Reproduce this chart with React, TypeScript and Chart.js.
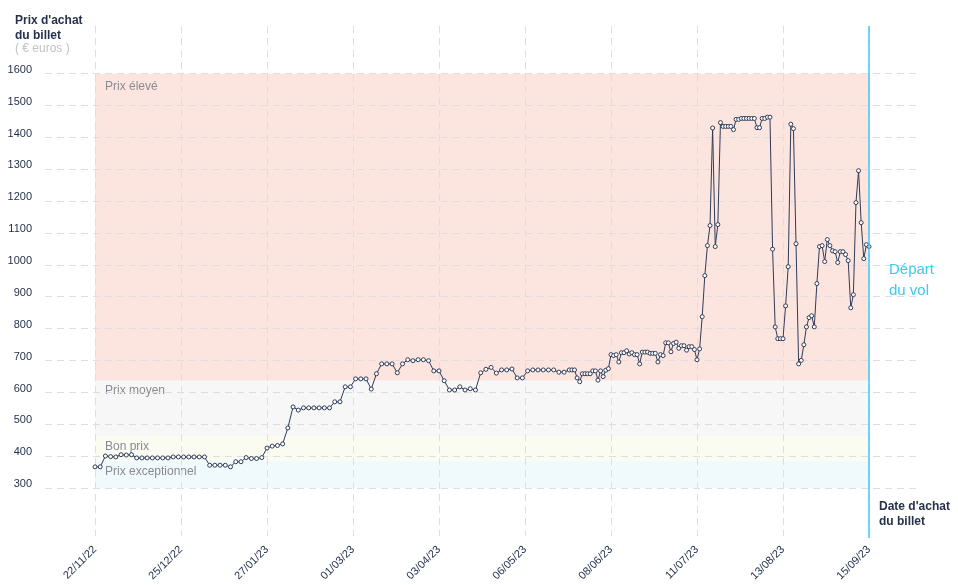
import React, { useEffect, useRef } from 'react';
import { Chart, registerables } from 'chart.js';

Chart.register(...registerables);

// X axis: day offsets from 22/11/22 and their labels
const xTickDays = [0, 33, 66, 99, 132, 165, 198, 231, 264, 297];
const xTickLabels = ['22/11/22', '25/12/22', '27/01/23', '01/03/23', '03/04/23', '06/05/23', '08/06/23', '11/07/23', '13/08/23', '15/09/23'];
const yTickValues = [300, 400, 500, 600, 700, 800, 900, 1000, 1100, 1200, 1300, 1400, 1500, 1600];

// Purchase dates (days after 22/11/22)
const priceDays = [
  0, 2, 4, 6, 8, 10, 12, 14, 16, 18, 20, 22, 24, 26, 28, 30, 32, 34, 36, 38,
  40, 42, 44, 46, 48, 50, 52, 54, 56, 58, 60, 62, 64, 66, 68, 70, 72, 74, 76, 78,
  80, 82, 84, 86, 88, 90, 92, 94, 96, 98, 100, 102, 104, 106, 108, 110, 112, 114, 116, 118,
  120, 122, 124, 126, 128, 130, 132, 134, 136, 138, 140, 142, 144, 146, 148, 150, 152, 154, 156, 158,
  160, 162, 164, 166, 168, 170, 172, 174, 176, 178, 180,
  182, 183, 184, 185, 186, 187, 188, 189, 190, 191, 192, 193, 194, 195, 196, 197, 198, 199, 200, 201,
  202, 203, 204, 205, 206, 207, 208, 209, 210, 211, 212, 213, 214, 215, 216, 217, 218, 219, 220, 221,
  222, 223, 224, 225, 226, 227, 228, 229, 230, 231, 232, 233, 234, 235, 236, 237, 238, 239, 240, 241,
  242, 243, 244, 245, 246, 247, 248, 249, 250, 251, 252, 253, 254, 255, 256, 257, 258, 259, 260, 261,
  262, 263, 264, 265, 266, 267, 268, 269, 270, 271, 272, 273, 274, 275, 276, 277, 278, 279, 280, 281,
  282, 283, 284, 285, 286, 287, 288, 289, 290, 291, 292, 293, 294, 295, 296, 297,
];

// Ticket prices (€)
const prices = [
  367, 367, 401, 399, 398, 405, 404, 405, 395, 395, 395, 395, 395, 395, 395, 398, 398, 398, 398, 398,
  398, 398, 372, 372, 372, 372, 367, 383, 383, 396, 393, 393, 396, 426, 432, 434, 439, 489, 555, 545,
  552, 552, 552, 552, 552, 552, 571, 571, 618, 618, 643, 643, 643, 611, 659, 690, 690, 690, 662, 690,
  703, 700, 703, 703, 700, 668, 668, 637, 608, 608, 618, 608, 612, 608, 662, 673, 679, 661, 671, 671,
  674, 646, 646, 668, 671, 671, 671, 671, 671, 664, 664,
  671, 671, 671, 646, 634, 659, 659, 659, 659, 668, 668, 639, 668, 650, 670, 675, 719, 716, 719, 696,
  725, 725, 731, 721, 725, 719, 719, 690, 727, 727, 727, 723, 723, 723, 696, 719, 716, 756, 756, 728,
  754, 758, 739, 747, 747, 733, 744, 744, 735, 703, 737, 838, 967, 1061, 1124, 1430, 1058, 1127, 1447, 1435,
  1435, 1435, 1435, 1425, 1457, 1457, 1460, 1460, 1460, 1460, 1460, 1460, 1431, 1431, 1460, 1460, 1464, 1464, 1050, 806,
  769, 769, 769, 872, 995, 1442, 1428, 1067, 690, 701, 750, 806, 835, 841, 806, 942, 1058, 1061, 1011, 1080,
  1061, 1045, 1042, 1008, 1042, 1042, 1033, 1014, 866, 907, 1196, 1296, 1133, 1020, 1064, 1058,
];

// Price zones
const bandNames = ['Prix élevé', 'Prix moyen', 'Bon prix', 'Prix exceptionnel'];
const bandTops = [1600, 637, 463, 385];
const bandBottoms = [637, 463, 385, 300];
const bandColors = ['#fde5df', '#f7f7f8', '#fbfcf1', '#f0fafd'];
const bandLabelOffsets = [13, 10, 10, 11];

const FONT = '"Liberation Sans", Arial, sans-serif';
const NAVY = '#1f2c49';
const CYAN = '#3fc8f1';

const decorPlugin = {
  id: 'decor',
  beforeDraw(chart: any) {
    const { ctx, scales } = chart;
    const x = scales.x;
    const y = scales.y;
    const x0 = x.getPixelForValue(xTickDays[0]);
    const x1 = x.getPixelForValue(xTickDays[xTickDays.length - 1]);
    ctx.save();
    for (let i = 0; i < bandNames.length; i++) {
      const yt = y.getPixelForValue(bandTops[i]);
      const yb = y.getPixelForValue(bandBottoms[i]);
      ctx.fillStyle = bandColors[i];
      ctx.fillRect(x0, yt, x1 - x0, yb - yt);
    }
    ctx.font = `12px ${FONT}`;
    ctx.fillStyle = '#8a8a93';
    ctx.textBaseline = 'middle';
    ctx.textAlign = 'left';
    for (let i = 0; i < bandNames.length; i++) {
      const yt = y.getPixelForValue(bandTops[i]);
      ctx.fillText(bandNames[i], x0 + 10, yt + bandLabelOffsets[i]);
    }
    ctx.restore();
  },
  afterDraw(chart: any) {
    const { ctx, scales, chartArea } = chart;
    const x = scales.x;
    const xd = x.getPixelForValue(xTickDays[xTickDays.length - 1]);
    ctx.save();
    ctx.strokeStyle = CYAN;
    ctx.lineWidth = 1.5;
    ctx.beginPath();
    ctx.moveTo(xd, chartArea.top);
    ctx.lineTo(xd, chartArea.bottom + 2);
    ctx.stroke();

    ctx.textAlign = 'left';
    ctx.textBaseline = 'alphabetic';
    ctx.fillStyle = '#26324b';
    ctx.font = `bold 12px ${FONT}`;
    ctx.fillText("Prix d'achat", 15, 24);
    ctx.fillText('du billet', 15, 38.5);
    ctx.fillStyle = '#c2c2c2';
    ctx.font = `12px ${FONT}`;
    ctx.fillText('( € euros )', 15, 52);

    ctx.fillStyle = '#26324b';
    ctx.font = `bold 12px ${FONT}`;
    ctx.fillText("Date d'achat", xd + 10, 510);
    ctx.fillText('du billet', xd + 10, 525);

    ctx.fillStyle = CYAN;
    ctx.font = `15px ${FONT}`;
    ctx.fillText('Départ', xd + 20, 273.5);
    ctx.fillText('du vol', xd + 20, 295);
    ctx.restore();
  },
};

export default function App() {
  const canvasRef = useRef<HTMLCanvasElement | null>(null);

  useEffect(() => {
    if (!canvasRef.current) return;
    const pxPerDay = (869 - 95) / 297;
    const xMin = -(95 - 45) / pxPerDay;
    const xMax = 297 + (918 - 869) / pxPerDay;

    const chart = new Chart(canvasRef.current, {
      type: 'line',
      data: {
        datasets: [
          {
            data: priceDays.map((d, i) => ({ x: d, y: prices[i] })),
            borderColor: '#2f3c58',
            borderWidth: 1,
            pointRadius: 2,
            pointBorderWidth: 1,
            pointBackgroundColor: '#ffffff',
            pointBorderColor: '#2f3c58',
            tension: 0,
            fill: false,
          },
        ],
      },
      plugins: [decorPlugin],
      options: {
        responsive: false,
        animation: false,
        devicePixelRatio: 1,
        layout: { padding: { top: 26, right: 40, left: 0, bottom: 0 } },
        plugins: {
          legend: { display: false },
          tooltip: { enabled: false },
        },
        scales: {
          x: {
            type: 'linear',
            min: xMin,
            max: xMax,
            afterBuildTicks: (s: any) => {
              s.ticks = xTickDays.map((v) => ({ value: v }));
            },
            afterFit: (s: any) => {
              s.height = 49;
            },
            ticks: {
              autoSkip: false,
              minRotation: 45,
              maxRotation: 45,
              padding: 7,
              color: NAVY,
              font: { family: FONT, size: 11 },
              callback: (v: any) => xTickLabels[xTickDays.indexOf(Number(v))] ?? '',
            },
            grid: { color: '#dedede', lineWidth: 1, drawTicks: false },
            border: { display: false, dash: [7, 5] },
          },
          y: {
            type: 'linear',
            min: 150,
            max: 1750,
            afterBuildTicks: (s: any) => {
              s.ticks = yTickValues.map((v) => ({ value: v }));
            },
            afterFit: (s: any) => {
              s.width = 45;
            },
            ticks: {
              padding: 13,
              labelOffset: -4,
              color: NAVY,
              font: { family: FONT, size: 11 },
              callback: (v: any) => String(v),
            },
            grid: { color: '#dedede', lineWidth: 1, drawTicks: false },
            border: { display: false, dash: [7, 5] },
          },
        },
      },
    } as any);
    return () => chart.destroy();
  }, []);

  return (
    <div style={{ position: 'absolute', left: 0, top: 0, width: 958, height: 585, background: '#ffffff' }}>
      <canvas ref={canvasRef} width={958} height={585} style={{ display: 'block' }} />
    </div>
  );
}
